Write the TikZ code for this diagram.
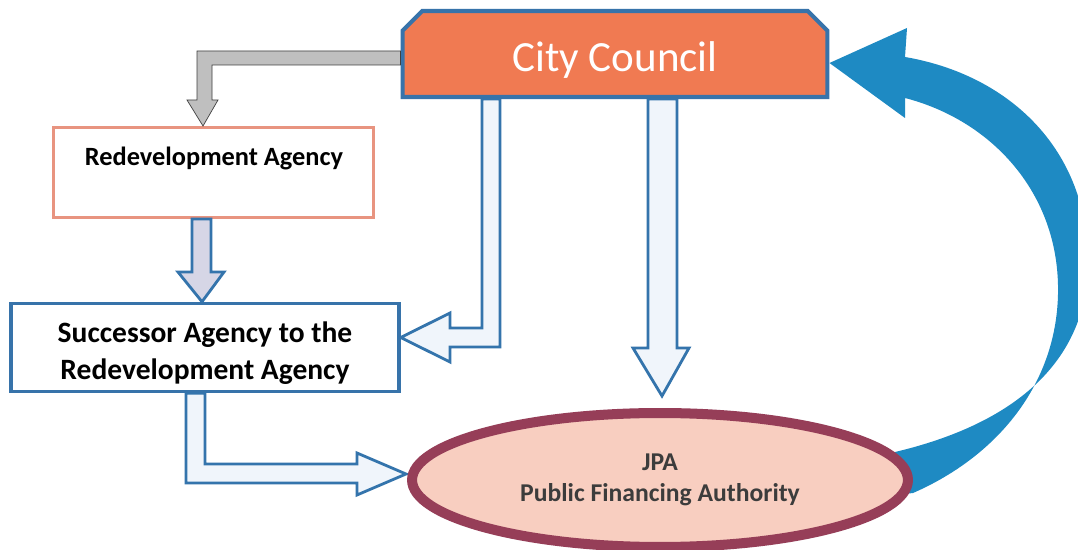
\documentclass[tikz,border=0pt]{standalone}
\usepackage{fontspec}
\setmainfont{Carlito}
\usetikzlibrary{shapes.misc,shapes.geometric}
\definecolor{councilfill}{RGB}{240,122,82}
\definecolor{councilline}{RGB}{55,115,170}
\definecolor{redevline}{RGB}{232,148,128}
\definecolor{arrowline}{RGB}{52,116,172}
\definecolor{arrowfill}{RGB}{240,245,251}
\definecolor{lavender}{RGB}{214,214,230}
\definecolor{jpaline}{RGB}{150,62,88}
\definecolor{jpafill}{RGB}{248,206,192}
\definecolor{jpatext}{RGB}{60,60,60}
\definecolor{loopblue}{RGB}{30,138,195}
\begin{document}
\begin{tikzpicture}[x=0.02cm,y=-0.02cm,
  box/.style={draw,fill=white,inner sep=0pt,align=center,font=\bfseries},
  hollow/.style={draw=arrowline,line width=1.6pt,fill=arrowfill,line join=miter}]
\useasboundingbox[fill=white] (0,0) rectangle (1078,550);
%boxes
\node[chamfered rectangle,chamfered rectangle corners={north west,north east},
  chamfered rectangle xsep=8pt,draw=councilline,line width=2.3pt,fill=councilfill,
  minimum width=8.5cm,minimum height=1.72cm,inner sep=0pt,text=white,text height=25pt,text depth=4.6pt,
  font=\fontsize{24.5}{28}\selectfont] (council) at (615,54) {City Council};
\node[box,draw=redevline,line width=1.7pt,minimum width=6.42cm,minimum height=1.8cm] (redev) at (213.5,172.5) {};
\node[font=\bfseries\fontsize{15}{18}\selectfont] (redevtext) at (214,158) {Redevelopment Agency};
\node[box,draw=councilline,line width=2pt,minimum width=7.76cm,minimum height=1.76cm] (succ) at (205,347.5) {};
\node[align=center,font=\bfseries\fontsize{16.8}{21}\selectfont] (succtext) at (205,353) {Successor Agency to the\\Redevelopment Agency};
%arrows
\draw[fill=gray!50,draw=gray!50!black,line width=0.4pt] (council.west |- 0,51) -- (197,51) -- (197,100) -- (187,100)
  -- (203,0 |- redev.north) -- (218,100) -- (212,100) -- (212,65) -- (council.west |- 0,65) -- cycle;
\draw[hollow,fill=lavender] (192,0 |- redev.south) -- (192,272) -- (178,272) -- (202,0 |- succ.north)
  -- (224,272) -- (211,272) -- (211,0 |- redev.south) -- cycle;
\draw[hollow] (482,0 |- council.south) -- (482,328) -- (450,328) -- (450,313) -- (succ.east |- 0,337.5)
  -- (450,362) -- (450,347) -- (500,347) -- (500,0 |- council.south) -- cycle;
\draw[hollow] (648,0 |- council.south) -- (648,348) -- (633,348) -- (662,396) -- (689,348)
  -- (677,348) -- (677,0 |- council.south) -- cycle;
\draw[hollow] (186,0 |- succ.south) -- (186,483) -- (357,483) -- (357,495) -- (406,474) -- (357,453)
  -- (357,464) -- (205,464) -- (205,0 |- succ.south) -- cycle;
%loop back
\fill[loopblue] (895,495) -- (895,452) .. controls (1030,420) and (1088,350) .. (1088,262)
  .. controls (1088,150) and (1010,75) .. (905,57) -- (907,28) -- (council.east |- 0,63) -- (905,118) -- (905,98)
  .. controls (990,120) and (1056,190) .. (1058,285) .. controls (1060,380) and (1000,455) .. (913,493) -- cycle;
%JPA
\node[ellipse,draw=jpaline,line width=5.7pt,fill=jpafill,minimum width=9.92cm,minimum height=2.68cm,
  inner sep=0pt,align=center,text=jpatext,font=\bfseries\fontsize{14.6}{17.6}\selectfont] (jpa) at (660,480)
  {JPA\\Public Financing Authority};
\end{tikzpicture}
\end{document}
